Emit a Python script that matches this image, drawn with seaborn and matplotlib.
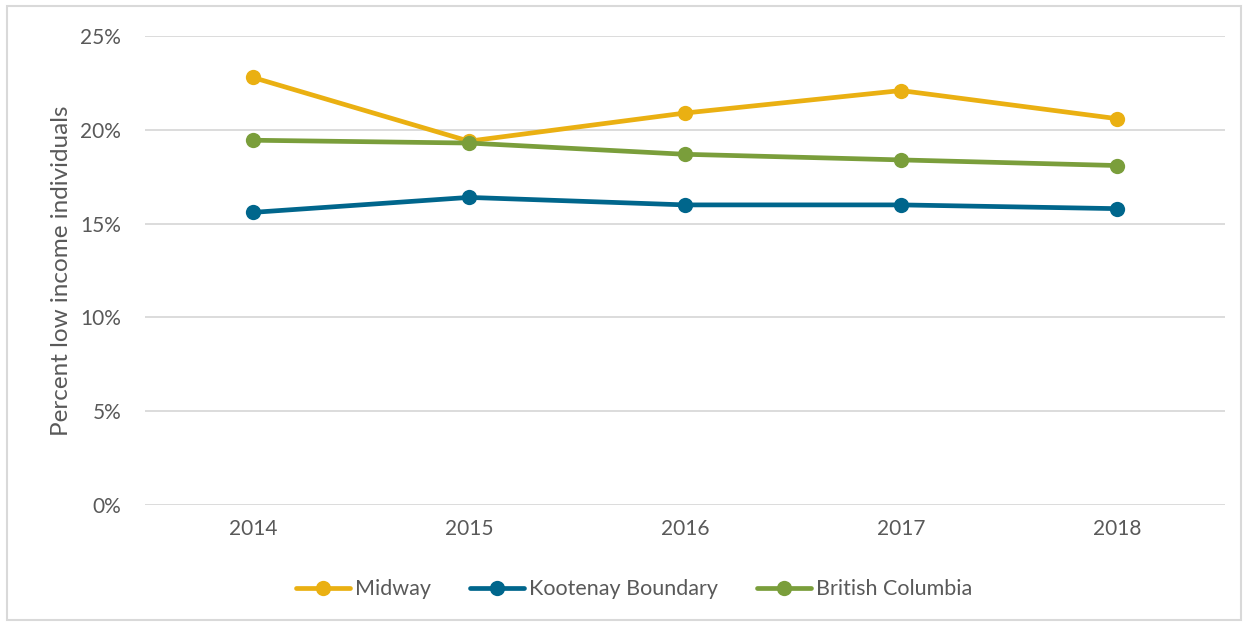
import matplotlib
matplotlib.use("Agg")
import matplotlib.pyplot as plt
import seaborn as sns
import pandas as pd
from matplotlib.ticker import FuncFormatter
from matplotlib.patches import Rectangle

years = ["2014", "2015", "2016", "2017", "2018"]
midway = [22.8, 19.4, 20.9, 22.1, 20.6]
kootenay = [15.6, 16.4, 16.0, 16.0, 15.8]
bc = [19.45, 19.3, 18.7, 18.4, 18.1]
series_names = ["Midway", "Kootenay Boundary", "British Columbia"]
colors = ["#EAB012", "#00668C", "#7A9E3B"]

rows = []
for name, vals in zip(series_names, [midway, kootenay, bc]):
    for y, v in zip(years, vals):
        rows.append({"Year": y, "Value": v, "Series": name})
df = pd.DataFrame(rows)

sns.set_theme(style="white")
plt.rcParams["font.family"] = ["Lato", "DejaVu Sans"]

fig = plt.figure(figsize=(12.48, 6.24), dpi=100)
ax = fig.add_axes([0.116, 0.191, 0.8656, 0.751])

sns.lineplot(data=df, x="Year", y="Value", hue="Series", hue_order=series_names,
             palette=colors, marker="o", markersize=11, markeredgewidth=0,
             linewidth=3.4, ax=ax, sort=False)

ax.set_xlim(-0.5, 4.5)
ax.set_ylim(0, 25)
ax.set_yticks([0, 5, 10, 15, 20, 25])
ax.yaxis.set_major_formatter(FuncFormatter(lambda v, p: f"{int(v)}%"))
ax.grid(axis="y", color="#D9D9D9", linewidth=1.3)
ax.set_axisbelow(True)
for s in ax.spines.values():
    s.set_visible(False)
ax.tick_params(axis="both", length=0, labelsize=15, labelcolor="#595959")
ax.tick_params(axis="y", pad=17)
ax.tick_params(axis="x", pad=10)
ax.set_xlabel("")
ax.set_ylabel("Percent low income individuals", fontsize=17.5, color="#595959", labelpad=6)

handles, labels = ax.get_legend_handles_labels()
ax.get_legend().remove()
leg = fig.legend(handles, labels, loc="center", bbox_to_anchor=(0.508, 0.056),
                 ncol=3, frameon=False, fontsize=15.5, handlelength=2.5,
                 handletextpad=0.25, columnspacing=1.8, labelcolor="#595959")

fig.patches.append(Rectangle((0.006, 0.006), 0.988, 0.985, transform=fig.transFigure,
                             fill=False, edgecolor="#D9D9D9", linewidth=1.5))

fig.savefig("out.png", dpi=100)
